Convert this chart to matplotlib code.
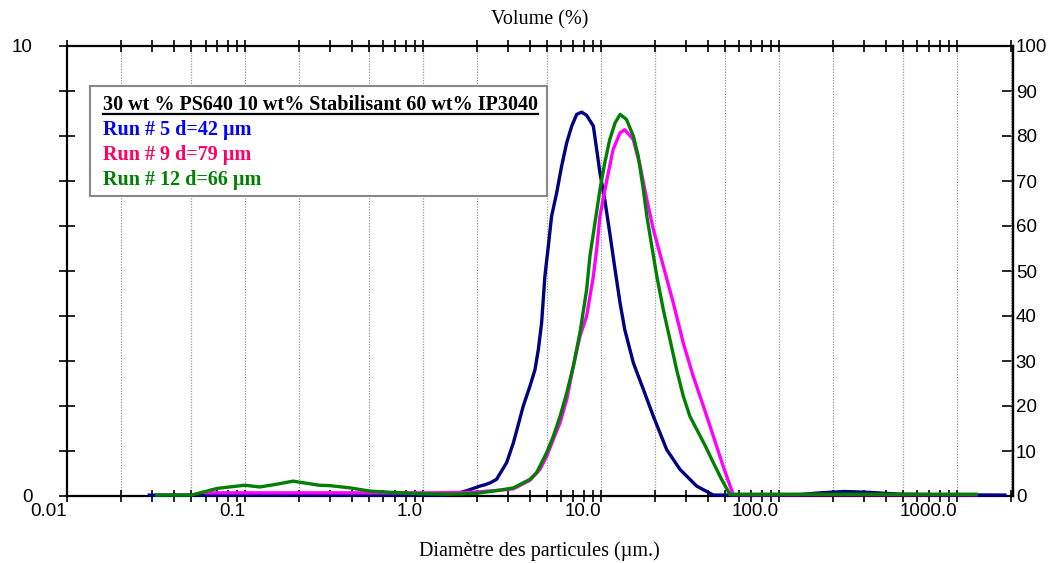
import numpy as np
import matplotlib
matplotlib.use("Agg")
import matplotlib.pyplot as plt
from matplotlib.ticker import LogLocator, FixedLocator, NullFormatter, FixedFormatter
from matplotlib.patches import Rectangle
from matplotlib.lines import Line2D

# particle diameter (um) and volume values (left axis units, 0-10)
run5_x = [0.029, 0.5, 1.25, 1.5, 1.77, 2.09, 2.23, 2.38, 2.59, 2.95, 3.22, 3.66, 3.99,
          4.26, 4.45, 4.64, 4.84, 5.06, 5.28, 5.64, 6.01, 6.42, 6.85, 7.30, 7.79,
          8.31, 9.06, 9.46, 9.87, 10.5, 11.2, 12.0, 12.8, 13.6, 15.2, 17.3, 19.7,
          23.4, 27.8, 34.5, 42.8, 100, 131, 170, 234, 324, 478, 704, 1860]
run5_y = [0.02, 0.02, 0.02, 0.04, 0.12, 0.22, 0.25, 0.29, 0.37, 0.74, 1.18, 2.0, 2.44,
          2.81, 3.26, 3.85, 4.88, 5.55, 6.22, 6.74, 7.33, 7.85, 8.22, 8.48, 8.53,
          8.46, 8.22, 7.7, 7.18, 6.59, 5.85, 5.03, 4.29, 3.7, 2.96, 2.37, 1.77,
          1.03, 0.59, 0.22, 0.02, 0.02, 0.03, 0.07, 0.1, 0.08, 0.04, 0.03, 0.02]

run9_x = [0.061, 0.5, 1.09, 1.84, 2.03, 2.71, 3.22, 3.99, 4.54, 4.95, 5.40, 5.89, 6.42,
          6.99, 7.62, 8.31, 9.06, 9.46, 9.87, 10.8, 11.7, 12.8, 13.6, 15.2, 16.6,
          18.1, 19.7, 22.4, 25.5, 29.0, 33.0, 37.6, 42.8, 48.6, 55.3, 1280]
run9_y = [0.07, 0.07, 0.07, 0.08, 0.09, 0.13, 0.16, 0.35, 0.59, 0.88, 1.26, 1.63, 2.14,
          2.88, 3.55, 4.0, 4.88, 5.48, 6.22, 7.03, 7.7, 8.07, 8.14, 7.92, 7.33,
          6.59, 5.92, 5.11, 4.29, 3.4, 2.66, 2.0, 1.33, 0.66, 0.03, 0.03]

run12_x = [0.032, 0.05, 0.07, 0.1, 0.121, 0.15, 0.186, 0.26, 0.30, 0.39, 0.5, 0.74,
           1.0, 1.4, 2.0, 2.71, 3.22, 3.99, 4.35, 4.64, 4.95, 5.40, 5.89, 6.42, 6.99,
           7.62, 8.31, 8.67, 9.25, 9.87, 10.5, 11.2, 12.0, 12.8, 13.9, 15.2, 16.2,
           17.3, 18.1, 19.3, 20.6, 22.4, 24.4, 26.6, 29.0, 31.6, 34.5, 38.6, 42.8,
           47.6, 53.1, 58, 1280]
run12_y = [0.02, 0.02, 0.17, 0.24, 0.2, 0.26, 0.33, 0.24, 0.23, 0.18, 0.11, 0.07,
           0.05, 0.04, 0.06, 0.13, 0.18, 0.37, 0.52, 0.74, 0.96, 1.33, 1.77, 2.29, 2.88,
           3.63, 4.59, 5.33, 6.07, 6.81, 7.4, 7.92, 8.29, 8.48, 8.37, 8.0, 7.55,
           6.81, 6.22, 5.55, 4.88, 4.14, 3.48, 2.81, 2.22, 1.77, 1.48, 1.11, 0.74,
           0.37, 0.03, 0.04, 0.04]

series = [
    (run5_x, run5_y, "#000080"),
    (run9_x, run9_y, "#ff00ff"),
    (run12_x, run12_y, "#008000"),
]

legend_title = "30 wt % PS640 10 wt% Stabilisant 60 wt% IP3040"
legend_lines = [("Run # 5 d=42 µm", "#0000ff"),
                ("Run # 9 d=79 µm", "#ff0066"),
                ("Run # 12 d=66 µm", "#008000")]

decades = [0.01, 0.1, 1.0, 10.0, 100.0, 1000.0]
decade_labels = ["0.01", "0.1", "1.0", "10.0", "100.0", "1000.0"]

sans = "Liberation Sans"
serif = "Liberation Serif"

fig = plt.figure(figsize=(10.48, 5.63), dpi=100)
ax = fig.add_axes([67 / 1048, 1 - 496 / 563, 946 / 1048, 450 / 563])

for xs, ys, c in series:
    ax.plot(xs, ys, color=c, lw=2.4, solid_joinstyle="round", clip_on=False, zorder=3)

ax.set_xscale("log")
ax.set_xlim(0.01, 2065)
ax.set_ylim(0, 10)

# dotted grid at 1, 2, 5 of each decade
for d in decades:
    for m in (1, 2, 5):
        g = d * m
        if 0.01 < g < 2065:
            ax.axvline(g, color="#999999", lw=0.9, ls=(0, (1, 1.2)), zorder=1)

ax.xaxis.set_major_locator(FixedLocator(decades))
ax.xaxis.set_major_formatter(FixedFormatter(decade_labels))
ax.xaxis.set_minor_locator(LogLocator(base=10, subs=np.arange(2, 10), numticks=20))
ax.xaxis.set_minor_formatter(NullFormatter())
ax.tick_params(axis="x", which="both", top=True, bottom=True, direction="inout",
               length=8, width=1.2, labelsize=13.5, pad=1)
for lab in ax.get_xticklabels():
    lab.set_horizontalalignment("right")
    lab.set_fontfamily(sans)

ax.set_yticks(range(0, 11))
ax.set_yticklabels(["0"] + [""] * 9 + ["10"], fontfamily=sans)
ax.tick_params(axis="y", which="both", direction="inout", length=12, width=1.2,
               labelsize=13.5, pad=19)

sec = ax.secondary_yaxis("right", functions=(lambda v: v * 10, lambda v: v / 10))
sec.set_yticks(range(0, 101, 10))
sec.tick_params(direction="in", length=8, width=1.2, labelsize=13.5, pad=2)
for lab in sec.get_yticklabels():
    lab.set_fontfamily(sans)
sec.spines["right"].set_linewidth(1.6)

for s in ax.spines.values():
    s.set_linewidth(1.6)

fig.text(0.515, 1 - 20 / 563, "Volume (%)", ha="center", va="center",
         fontsize=14.5, fontfamily=serif)
fig.text(0.515, 1 - 551 / 563, "Diamètre des particules (µm.)", ha="center",
         va="center", fontsize=14.5, fontfamily=serif)

# legend box
ax.add_patch(Rectangle((0.0243, 0.667), 0.483, 0.244, transform=ax.transAxes,
                       facecolor="white", edgecolor="#888888", lw=1.5, zorder=4))
t0 = ax.text(0.038, 0.869, legend_title, transform=ax.transAxes, va="center",
             fontsize=14.5, fontweight="bold", fontfamily=serif, color="black", zorder=5)
for i, (txt, c) in enumerate(legend_lines):
    ax.text(0.038, 0.813 - i * 0.0555, txt, transform=ax.transAxes, va="center",
            fontsize=14.5, fontweight="bold", fontfamily=serif, color=c, zorder=5)

fig.canvas.draw()
bb = t0.get_window_extent()
fig.add_artist(Line2D([bb.x0, bb.x1], [bb.y0 + 1, bb.y0 + 1], transform=None,
                      color="black", lw=1.6, zorder=6))

fig.savefig("out.png", dpi=100)
